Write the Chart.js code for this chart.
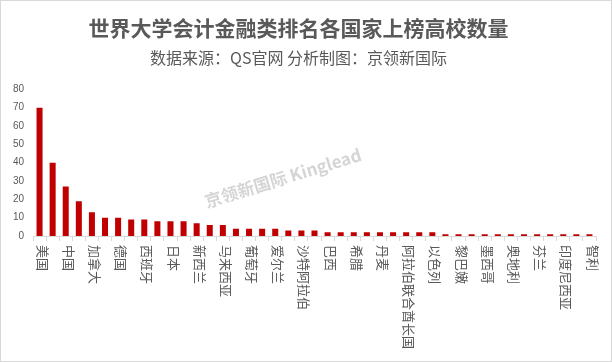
<!DOCTYPE html>
<html>
<head>
<meta charset="utf-8">
<script src="https://cdn.jsdelivr.net/npm/chart.js@4/dist/chart.umd.min.js"></script>
<style>
  html, body { margin: 0; padding: 0; background: #fff; }
  #wrap { width: 610px; height: 360px; border: 1px solid #d9d9d9; position: relative; }
</style>
</head>
<body>
<div id="wrap"><canvas id="chart-main" width="610" height="360"></canvas></div>
<script>
// countries, sorted by number of ranked schools
const paises = [
  '美国', '英国', '中国', '澳大利亚', '加拿大', '法国', '德国', '意大利', '西班牙', '韩国',
  '日本', '荷兰', '新西兰', '印度', '马来西亚', '俄罗斯', '葡萄牙', '瑞士', '爱尔兰', '比利时',
  '沙特阿拉伯', '新加坡', '巴西', '瑞典', '希腊', '泰国', '丹麦', '巴基斯坦', '阿拉伯联合酋长国', '哥伦比亚',
  '以色列', '挪威', '黎巴嫩', '卡塔尔', '墨西哥', '南非', '奥地利', '波兰', '芬兰', '菲律宾',
  '印度尼西亚', '阿根廷', '智利'
];
const cantidad = [
  70, 40, 27, 19, 13, 10, 10, 9, 9, 8,
  8, 8, 7, 6, 6, 4, 4, 4, 4, 3,
  3, 3, 2, 2, 2, 2, 2, 2, 2, 2,
  2, 1, 1, 1, 1, 1, 1, 1, 1, 1,
  1, 1, 1
];
const ticksY = [0, 10, 20, 30, 40, 50, 60, 70, 80];

const titulo = '世界大学会计金融类排名各国家上榜高校数量';
const subtitulo = '数据来源：QS官网 分析制图：京领新国际';
const marca = '京领新国际 Kinglead';

const gris = '#595959';
const rojo = '#c00000';

// every other country name, written downward under the axis
let etiquetas = {
  id: 'etiquetas',
  afterDraw: chart => {
    let ctx = chart.ctx;
    let x = chart.scales.x;
    ctx.save();
    ctx.fillStyle = gris;
    ctx.font = '13px "Noto Sans CJK SC", sans-serif';
    ctx.textAlign = 'left';
    ctx.textBaseline = 'middle';
    paises.forEach((p, i) => {
      if (i % 2) return;
      ctx.save();
      ctx.translate(x.getPixelForValue(i) + 3, x.top + 9);
      ctx.rotate(Math.PI / 2);
      ctx.fillText(p, 0, 0);
      ctx.restore();
    });
    ctx.restore();
  }
};

let marcaAgua = {
  id: 'marcaAgua',
  beforeDatasetsDraw: chart => {
    let ctx = chart.ctx;
    ctx.save();
    ctx.translate(282, 177);
    ctx.rotate(-17 * Math.PI / 180);
    ctx.font = 'bold 17px "Noto Sans CJK SC", sans-serif';
    ctx.fillStyle = 'rgba(185, 185, 185, 0.6)';
    ctx.textAlign = 'center';
    ctx.textBaseline = 'middle';
    ctx.fillText(marca, 0, 0);
    ctx.restore();
  }
};

let ctx1 = document.getElementById('chart-main').getContext('2d');
let grafico = new Chart(ctx1, {
  type: 'bar',
  data: {
    labels: paises,
    datasets: [{
      data: cantidad,
      backgroundColor: rojo,
      barPercentage: 0.46,
      categoryPercentage: 1
    }]
  },
  options: {
    responsive: false,
    animation: false,
    layout: { padding: { left: 0, right: 15, top: 0, bottom: 0 } },
    plugins: {
      legend: { display: false },
      tooltip: { enabled: false },
      title: {
        display: true,
        text: titulo,
        color: gris,
        font: { family: '"Noto Sans CJK SC", sans-serif', size: 21, weight: 'bold' },
        padding: { top: 14, bottom: 4 }
      },
      subtitle: {
        display: true,
        text: subtitulo,
        color: gris,
        font: { family: '"Noto Sans CJK SC", sans-serif', size: 16 },
        padding: { top: 4, bottom: 22 }
      }
    },
    scales: {
      x: {
        grid: {
          display: true,
          offset: true,
          drawOnChartArea: false,
          drawTicks: true,
          tickLength: 5,
          color: '#d9d9d9'
        },
        border: { display: true, color: '#d9d9d9' },
        ticks: { display: false },
        afterFit: s => { s.height = 125; }
      },
      y: {
        min: 0,
        max: 80,
        afterBuildTicks: s => { s.ticks = ticksY.map(v => ({ value: v })); },
        grid: { display: false },
        border: { display: false },
        ticks: {
          color: gris,
          padding: 1,
          font: { family: '"Liberation Sans", Arial, sans-serif', size: 10 }
        },
        afterFit: s => { s.width = 32; }
      }
    }
  },
  plugins: [marcaAgua, etiquetas]
});
</script>
</body>
</html>
